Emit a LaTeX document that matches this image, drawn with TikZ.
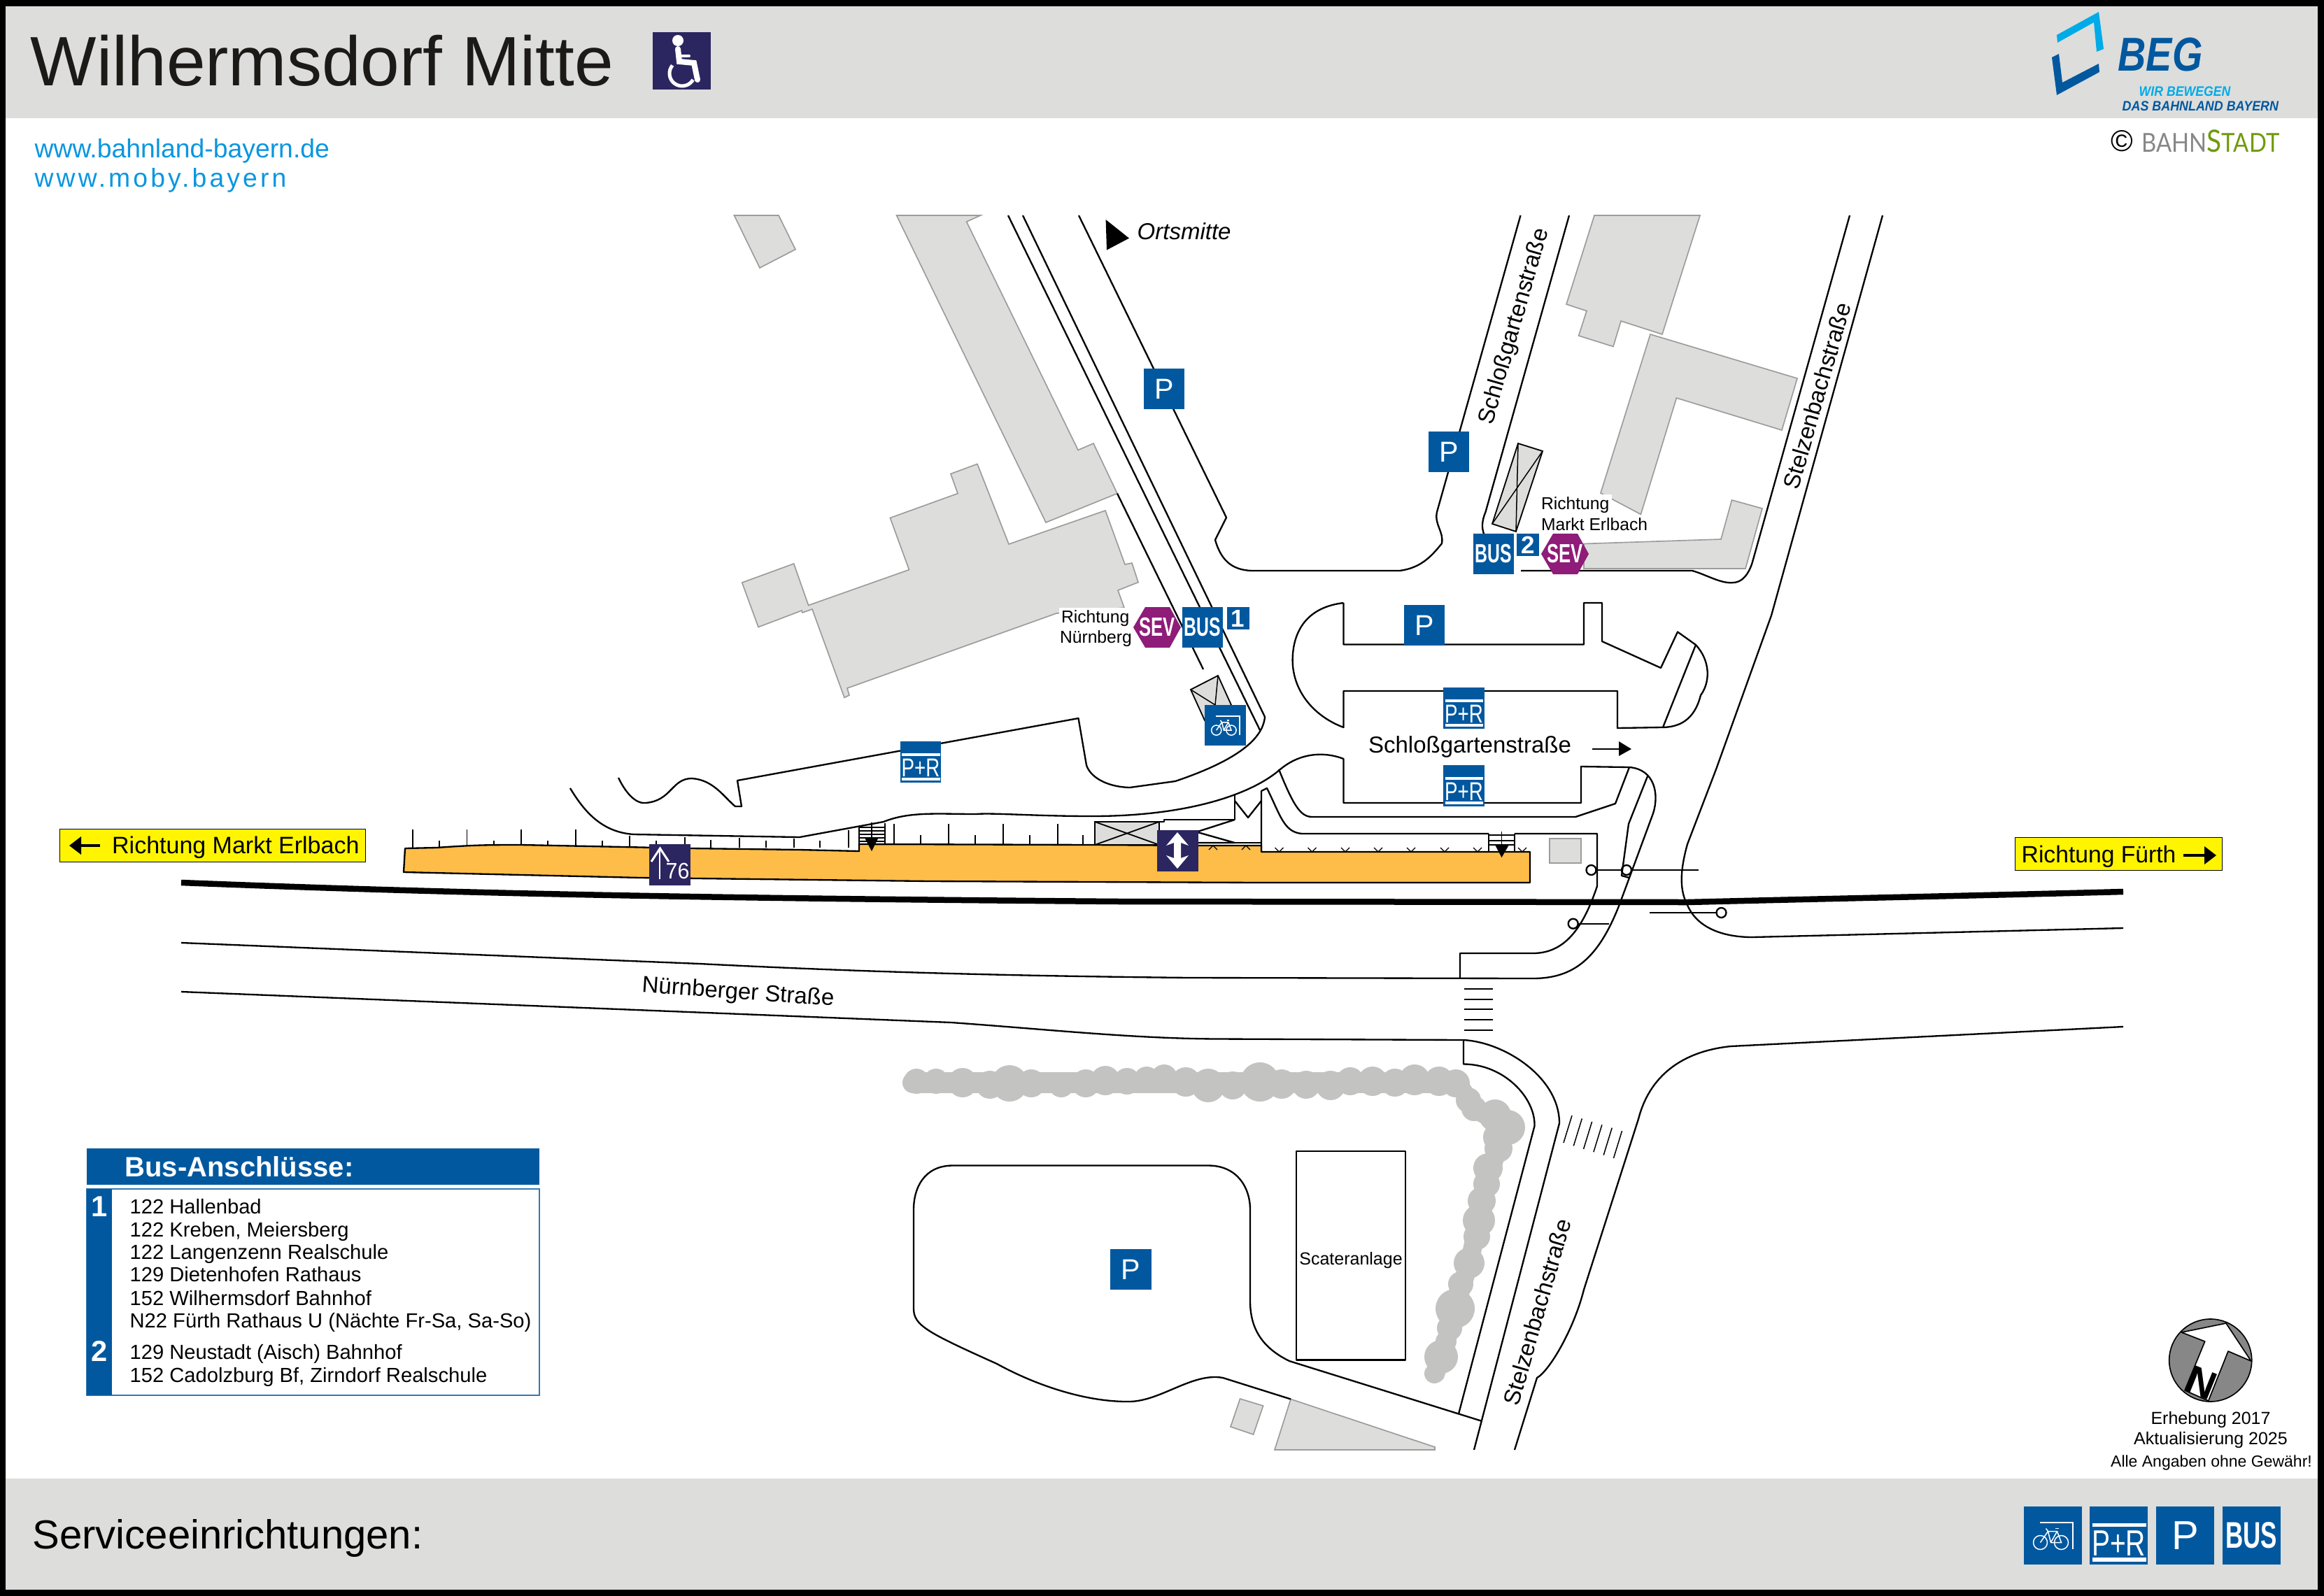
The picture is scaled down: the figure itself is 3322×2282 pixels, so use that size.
\documentclass[tikz,border=0pt]{standalone}
\usepackage{fontspec}
\usepackage{graphicx}
\setmainfont{Liberation Sans}
\newfontfamily\stadtfont{Lato}
\newcommand{\txtsize}[1]{\fontsize{#1}{#1}\selectfont}
\definecolor{bandgray}{HTML}{DDDDDB}
\definecolor{wallgray}{HTML}{9C9C9C}
\definecolor{treegray}{HTML}{C3C3C1}
\definecolor{signblue}{HTML}{01589F}
\definecolor{signnavy}{HTML}{2B2660}
\definecolor{sevpurple}{HTML}{8E1C78}
\definecolor{platorange}{HTML}{FDBD48}
\definecolor{wayyellow}{HTML}{FFF500}
\definecolor{linkblue}{HTML}{0A96E0}
\definecolor{beglight}{HTML}{00ABE8}
\definecolor{stadtgray}{HTML}{878787}
\definecolor{stadtgreen}{HTML}{6F9A0A}
\definecolor{titleblack}{HTML}{1C1A17}
\tikzset{
  road/.style={line width=0.7pt,line join=round},
  house/.style={fill=bandgray,draw=wallgray,line width=0.5pt},
  shelter/.style={fill=bandgray,draw=black,line width=0.55pt},
  bluesign/.style={fill=signblue,text=white,inner sep=0pt,minimum size=24.9pt,font=\txtsize{17.4}},
  numsign/.style={fill=signblue,text=white,inner sep=0pt,minimum size=9.6pt,font=\bfseries\txtsize{10.5}},
  navysign/.style={fill=signnavy,text=white,inner sep=0pt,minimum size=17.7pt},
  waysign/.style={fill=wayyellow,draw=black,line width=0.3pt,inner sep=0pt,anchor=north west},
  maptext/.style={inner sep=0pt,font=\txtsize{9.9}},
  smalltext/.style={inner sep=1pt,fill=white,anchor=base west,font=\txtsize{7.4}},
  foottext/.style={inner sep=0pt,anchor=base,font=\txtsize{7.5}},
}
\begin{document}
\begin{tikzpicture}[x=0.3pt,y=-0.3pt]
  \useasboundingbox (0,0) rectangle (3322,2282);

  % frame and bands
  \fill[black] (0,0) rectangle (3322,2282);
  \fill[white] (8,9) rectangle (3313,2273);
  \fill[bandgray] (8,9) rectangle (3313,169);
  \fill[bandgray] (8,2114) rectangle (3313,2273);

  \node[anchor=base west,inner sep=0pt,text=titleblack,font=\txtsize{30}] (title) at (43,122) {Wilhermsdorf Mitte};
  \node[navysign,minimum size=24.7pt] (access) at (974.5,87) {};
  \fill[white] (969,58) circle [radius=8];
  \draw[white,line width=2.4pt,line cap=round] (969,70) -- (971,88) -- (992,90) -- (997,114);
  \draw[white,line width=1.2pt,line cap=round] (971,80) -- (985,80);
  \draw[white,line width=1.5pt] (975,105) ++(220:18) arc [start angle=220,end angle=30,radius=18];

  \node[anchor=base west,inner sep=0pt,text=linkblue,font=\txtsize{11.2}] (linkone) at (49,225) {www.bahnland-bayern.de};
  \node[anchor=base west,inner sep=0pt,text=linkblue,font=\txtsize{11.2}] (linktwo) at (49,267) {\addfontfeature{LetterSpace=11}www.moby.bayern};

  % logo
  \fill[beglight] (2940,50) -- (3000,17) -- (3007,70) -- (2997,74) -- (2993,32) -- (2941,61) -- cycle;
  \fill[signblue] (2933,82) -- (2943,77) -- (2948,118) -- (3000,91) -- (3001,103) -- (2940,136) -- cycle;
  \node[anchor=base west,inner sep=0pt,text=signblue,font=\bfseries\itshape\txtsize{20.4}] (beg) at (3027,101) {\scalebox{.82}[1]{BEG}};
  \node[anchor=base west,inner sep=0pt,text=beglight,font=\bfseries\itshape\txtsize{5.9}] (begone) at (3057,137) {\scalebox{.9}[1]{WIR BEWEGEN}};
  \node[anchor=base west,inner sep=0pt,text=signblue,font=\bfseries\itshape\txtsize{5.9}] (begtwo) at (3033,158) {\scalebox{.91}[1]{DAS BAHNLAND BAYERN}};
  \node[inner sep=0pt,font=\txtsize{12.9}] (copy) at (3033,202) {\textcopyright};
  \node[anchor=base east,inner sep=0pt] (stadt) at (3259,217) {\stadtfont\scalebox{.88}[1]{\txtsize{11.2}\textcolor{stadtgray}{BAHN}\textcolor{stadtgreen}{\txtsize{13.2}S\txtsize{11.2}TADT}}};

  % buildings
  \draw[house] (1049.5,308) -- (1113,308) -- (1137,356.6) -- (1086,383) -- cycle;
  \draw[house] (1281.6,308) -- (1401.5,308) -- (1381.6,317) -- (1541,643.5) -- (1563,634) -- (1597,705.6) -- (1495,747) -- cycle;
  \draw[house] (1060.7,833) -- (1134.7,806) -- (1155.6,865.5) -- (1299.5,814.6) -- (1272.4,740.5) -- (1369,705.6) -- (1359,677.5) -- (1397,663.4) -- (1442,778) -- (1580,730) -- (1608,807) -- (1618,805) -- (1627,832.6) -- (1598,844) -- (1607,869) -- (1510,877) -- (1211,984) -- (1214,994) -- (1207,997.4) -- (1161,871) -- (1147,876) -- (1146,873) -- (1084,896.6) -- cycle;
  \draw[house] (2279,308) -- (2430,308) -- (2376,478) -- (2317,459) -- (2306,495.5) -- (2256.6,480) -- (2268,444.6) -- (2239,435) -- cycle;
  \draw[house] (2359,478) -- (2569,541) -- (2547,615) -- (2396.4,569) -- (2345.4,735.4) -- (2288,705) -- cycle;
  \draw[house] (2475.5,715) -- (2519,727) -- (2495,813) -- (2264,813) -- (2264,777.5) -- (2460,771) -- cycle;
  \draw[house] (1772.6,2000) -- (1805.6,2010) -- (1791.6,2051) -- (1759,2040) -- cycle;
  \draw[house] (1845,2000.5) -- (2051,2069) -- (2051,2073) -- (1822,2073) -- cycle;

  % hedge
  \draw[treegray,line width=9pt,line cap=round] (1305,1548) -- (2085,1548);
  \draw[treegray,line width=8pt,line cap=round,line join=round] (2085,1550) -- (2107,1585) -- (2155,1612) -- (2141,1642) -- (2125,1693) -- (2114,1745) -- (2100,1806) -- (2080,1871) -- (2067,1918) -- (2052,1964);
  \foreach \x/\y/\r in {1310/1546/18,1338/1546/18,1376/1548/21,1415/1551/20,1443/1549/26,1474/1549/20,1517/1551/18,1552/1549/20,1580/1545/21,1611/1546/19,1639/1543/18,1664/1541/19,1695/1547/21,1727/1552/24,1762/1552/20,1801/1547/28,1832/1550/21,1867/1551/20,1902/1552/21,1930/1546/20,1962/1546/21,1994/1548/20,2022/1544/22,2057/1546/21,2081/1549/20,
    2099/1573/18,2107/1585/18,2137/1595/23,2155/1612/25,2141/1626/21,2142/1642/20,2127/1670/21,2125/1693/19,2118/1717/20,2114/1745/23,2111/1768/19,2100/1806/22,2088/1836/18,2080/1871/28,2072/1899/18,2067/1918/15,2060/1940/24,2050/1964/14}
    \fill[treegray] (\x,\y) circle [radius=\r];

  % track
  \draw[line width=2.55pt] (259,1262) .. controls (640,1277) and (972,1284) .. (1600,1289) -- (2412,1290) .. controls (2650,1284) and (2850,1280) .. (3035,1275);

  % streets north
  \draw[road] (1542,308) -- (1753,740) -- (1737,772) .. controls (1745,800) and (1760,815) .. (1789,816) -- (2001,816) .. controls (2030,812) and (2045,797) .. (2061,777) .. controls (2064,760) and (2050,750) .. (2054,732) -- (2173.5,308);
  \draw[road] (2243,308) -- (2123.5,732) .. controls (2118,745) and (2118,755) .. (2121,763);
  \draw[road] (2174,816) -- (2419,816) .. controls (2440,822) and (2460,835) .. (2478,833) .. controls (2495,832) and (2503,812) .. (2506,800) -- (2644,308);
  \draw[road] (2691,308) -- (2532,880) -- (2453,1100) -- (2412,1207) .. controls (2400,1250) and (2402,1275) .. (2412,1294) .. controls (2425,1325) and (2460,1340) .. (2505,1340) -- (3035,1327);
  \draw[road] (1597,705.6) -- (1720,957);
  \draw[road] (1441,308) -- (1801,1044);
  \draw[road] (1462,308) -- (1808,1025) .. controls (1805,1060) and (1760,1090) .. (1680,1117) -- (1615,1126) .. controls (1580,1125) and (1558,1110) .. (1553,1094) -- (1541.5,1027) -- (1054,1116) -- (1060,1153) -- (1051,1153) .. controls (1035,1140) and (1020,1115) .. (989,1113) .. controls (960,1113) and (960,1145) .. (923,1148) .. controls (905,1150) and (890,1125) .. (884,1112);

  % island
  \draw[road] (1920.5,862) -- (1920.5,921.5) -- (2264,921.5) -- (2264,862) -- (2290,862) -- (2290,917) -- (2374,955) -- (2398,903.5) -- (2424,922) .. controls (2445,945) and (2445,975) .. (2431,994) .. controls (2422,1030) and (2400,1040) .. (2375,1040) -- (2312,1041) -- (2312,988) -- (1920.5,988) -- (1920.5,1040) .. controls (1880,1025) and (1848,990) .. (1847.6,944) .. controls (1848,900) and (1870,868) .. (1920.5,862);
  \draw[road] (2424,922) -- (2377,1040);

  % station side
  \draw[road] (259,1348) -- (1000,1378) .. controls (1200,1388) and (1400,1395) .. (1700,1398) -- (2191,1399) .. controls (2250,1399) and (2285,1370) .. (2315,1293) -- (2363,1163) .. controls (2372,1135) and (2365,1100) .. (2329,1097) -- (2260,1096) -- (2260,1148) -- (1920.5,1148) -- (1920.5,1085) .. controls (1895,1075) and (1860,1075) .. (1830,1100) .. controls (1790,1135) and (1700,1167) .. (1561,1167) .. controls (1480,1167) and (1420,1162) .. (1395,1164) .. controls (1340,1164) and (1300,1160) .. (1263,1175) -- (1143,1197) -- (906,1193) .. controls (860,1190) and (835,1160) .. (815,1127);
  \draw[road] (2087,1399) -- (2087,1363) -- (2191,1363) .. controls (2235,1363) and (2262,1330) .. (2283,1267) -- (2283,1192) -- (2165,1192);
  \draw[road] (2128,1192) -- (1861,1192) .. controls (1835,1190) and (1830,1165) .. (1811,1127) -- (1803,1131) -- (1803,1218);
  \draw[road] (2329,1097) -- (2309,1149) -- (2252,1168) -- (1876,1168) .. controls (1860,1168) and (1850,1155) .. (1828,1100);
  \draw[road] (2355,1110) -- (2328,1178) -- (2318,1252) -- (2329,1255);
  \draw[road] (1765,1137) -- (1765,1172) -- (1664,1172) -- (1664,1175) -- (1565,1175);
  \draw[road] (1765,1145) -- (1784,1169) -- (1803,1145);
  \draw[road] (1765,1172) -- (1712,1189);
  \draw[road] (1712,1190) -- (1765,1205) -- (1712,1205);
  \draw[road] (1765,1205) -- (1803,1205);

  % signals
  \draw[road] (2281.5,1244) -- (2318,1244);
  \draw[road] (2332,1244) -- (2428,1244);
  \draw[road] (2358,1305) -- (2453,1305);
  \draw[road] (2256,1321) -- (2300,1321);
  \foreach \x/\y in {2274.5/1244,2325/1244,2460.5/1305,2248.7/1320.7}
    \draw[road] (\x,\y) circle [radius=7];

  % streets south
  \draw[road] (259,1418) -- (1360,1462) .. controls (1500,1472) and (1620,1485) .. (1741,1485.5) -- (2092,1487) .. controls (2150,1490) and (2229,1540) .. (2229,1606) -- (2107,2073);
  \draw[road] (2092,1487) -- (2092,1521.5) .. controls (2150,1521.5) and (2195,1570) .. (2193.5,1610) -- (2085,2021.5);
  \draw[road] (3035,1468) -- (2474,1496) .. controls (2415,1502) and (2360,1530) .. (2342,1600) -- (2264,1844) .. controls (2250,1900) and (2215,1960) .. (2197,1970) -- (2165,2073);
  \draw[road] (2118.5,2032) -- (1843,1946) .. controls (1800,1925) and (1787,1895) .. (1787,1860) -- (1787,1729) .. controls (1787,1700) and (1770,1666.5) .. (1727,1666.5) -- (1362,1666.5) .. controls (1320,1666.5) and (1306,1700) .. (1306,1729) -- (1306,1871) .. controls (1306,1895) and (1325,1905) .. (1425,1950) .. controls (1470,1975) and (1545,2005) .. (1615,2004) .. controls (1660,2003) and (1705,1962) .. (1748,1970) -- (1845,2000.5);
  \draw[road] (1853,1646) rectangle (2009,1944.5);
  \node[maptext,font=\txtsize{7.5}] (skate) at (1931,1802) {Scateranlage};

  % crossings
  \foreach \y in {1414,1429,1443,1458,1473}
    \draw[road] (2092.5,\y) -- (2134,\y);
  \foreach \i in {0,...,5}
    \draw[line width=0.45pt] (2247+14.3*\i,1595+4.4*\i) -- (2235+14.3*\i,1634+4.4*\i);

  % ticks
  \foreach \x/\y in {590/1186,667.5/1186,745/1186,823/1186,900/1195,979/1197,1057/1198,1135/1199,1213/1187,
    628/1202,706/1202,783/1202,861/1202,938/1202,1016/1201,1095/1202,1172/1202,
    1278/1178,1356/1178,1434/1178,1512/1178,1316/1194,1394/1194,1472/1194,1548/1194}
    \draw[line width=0.35pt] (\x,\y) -- (\x,1212);

  % platform
  \draw[fill=platorange,line width=0.7pt,line join=round] (579,1213) -- (624,1212) .. controls (680,1208) and (700,1208) .. (745,1208) -- (989,1213) -- (1143,1215) -- (1228,1217) -- (1228,1207) -- (1565,1208) -- (1712,1209) -- (1803,1209) -- (1803,1218) -- (2187,1218) -- (2187,1262) -- (1800,1262) -- (1329,1260) -- (915,1255) -- (577,1247) -- cycle;

  % stairs
  \foreach \y in {1183,1188,1193,1198,1203}
    \draw[line width=0.5pt] (1228,\y) -- (1265,\y);
  \draw[line width=0.5pt] (1228,1183) -- (1228,1217);
  \draw[line width=0.5pt] (1265,1177) -- (1265,1207);
  \draw[line width=0.5pt] (1246,1176) -- (1246,1200);
  \fill[black] (1235.5,1197) -- (1256,1197) -- (1246,1217) -- cycle;
  \foreach \y in {1194,1202,1208}
    \draw[line width=0.5pt] (2128,\y) -- (2165,\y);
  \draw[line width=0.5pt] (2128,1192) -- (2128,1218);
  \draw[line width=0.5pt] (2165,1192) -- (2165,1218);
  \draw[line width=0.5pt] (2146.5,1189) -- (2146.5,1210);
  \fill[black] (2137,1208) -- (2157,1208) -- (2146.5,1226) -- cycle;
  \foreach \x in {1828.5,1875.5,1923,1970,2017,2065,2112,2176}
    \draw[line width=0.35pt] (\x-6,1212) -- (\x,1218) -- (\x+6,1212);
  \foreach \x in {1734,1781}
    \draw[line width=0.35pt] (\x-6,1215) -- (\x,1209) -- (\x+6,1215);

  % shelters and boxes
  \draw[shelter] (1565,1175) rectangle (1657,1208);
  \draw[line width=0.55pt] (1565,1175) -- (1657,1208) (1565,1208) -- (1657,1175);
  \draw[shelter] (1702,986) -- (1741,966) -- (1760,1008) -- (1722,1030) -- cycle;
  \draw[line width=0.45pt] (1702,986) -- (1737,1008) -- (1741,966);
  \draw[shelter] (2170,634) -- (2205,645) -- (2167,760) -- (2133,749) -- cycle;
  \draw[line width=0.45pt] (2170,634) -- (2167,760) (2205,645) -- (2133,749);
  \draw[fill=bandgray,draw=wallgray,line width=0.6pt] (2215,1199) rectangle (2260,1234);

  % street names
  \node[maptext] (schlossh) at (2101,1068) {Schloßgartenstraße};
  \draw[road] (2276,1071) -- (2316,1071);
  \fill[black] (2314,1060) -- (2332,1071) -- (2314,1081) -- cycle;
  \node[maptext,rotate=74] (schlossv) at (2165,467) {Schloßgartenstraße};
  \node[maptext,rotate=74] (stelzone) at (2597,566) {Stelzenbachstraße};
  \node[maptext,rotate=74] (stelztwo) at (2197,1876) {Stelzenbachstraße};
  \node[maptext,rotate=-4] (nuern) at (1055,1420) {Nürnberger Straße};
  \node[anchor=base west,inner sep=0pt,font=\itshape\txtsize{9.9}] (ortsmitte) at (1625,342) {Ortsmitte};
  \fill[black] (1580.6,314) -- (1614,340.6) -- (1582,357.5) -- cycle;

  % stop labels
  \node[smalltext] (richnb) at (1513,890) {Richtung};
  \node[smalltext] (nbname) at (1511,919) {Nürnberg};
  \node[smalltext] (richme) at (2199,728.5) {Richtung};
  \node[smalltext] (mename) at (2199,758) {Markt Erlbach};

  % signs
  \foreach \n/\cx/\cy/\s in {pone/1664/556/.71,ptwo/2071/646/.71,pthree/2036/894/.71,pfour/1616.5/1815/.71,pserv/3123.5/2195.5/1}
    \node[bluesign,scale=\s] (\n) at (\cx,\cy) {P};
  \foreach \n/\cx/\cy/\s in {busone/1719/897/.71,bustwo/2135/792/.71,busserv/3218/2195.5/1}
    \node[bluesign,scale=\s,font=\bfseries\txtsize{15.9}] (\n) at (\cx,\cy) {\scalebox{.66}[1]{BUS}};
  \foreach \n/\cx/\cy/\s in {prleft/1316/1089.5/.71,prtop/2092.5/1012.5/.71,prbot/2092.5/1123.5/.71,prserv/3028.5/2195.5/1}
    {
    \node[bluesign,scale=\s] (\n) at (\cx,\cy) {};
    \begin{scope}[shift={(\cx,\cy)},scale=\s]
      \fill[white] (-38,-17.7) rectangle (39,-12.5);
      \fill[white] (-38,31.5) rectangle (39,37.5);
      \node[scale=\s,text=white,inner sep=0pt,font=\txtsize{15.6}] (\n text) at (0,11) {\scalebox{.75}[1]{P+R}};
    \end{scope}
    }
  \foreach \n/\cx/\cy/\s in {bikeone/1751.5/1037/.71,bikeserv/2934.5/2195.5/1}
    {
    \node[bluesign,scale=\s] (\n) at (\cx,\cy) {};
    \begin{scope}[shift={(\cx,\cy)},scale=\s,white,line width=0.45pt]
      \draw (-18.5,-18.5) -- (28.5,-18.5) -- (28.5,19.5);
      \draw (-18,10) circle [radius=10];
      \draw (12,10) circle [radius=10];
      \draw (-18,10) -- (-7,-6) -- (6,-6) -- (12,10) -- (-3,10) -- (-7,-6);
      \draw (-3,10) -- (6,-6);
      \draw (-10,-10) -- (-7,-6);
      \draw (3,-10) -- (8,-10);
    \end{scope}
    }
  \node[numsign] (numone) at (1769.5,884) {1};
  \node[numsign] (numtwo) at (2184,779) {2};
  \foreach \n/\cx/\cy in {sevone/1654/897,sevtwo/2237/792}
    {
    \fill[sevpurple] (\cx-34,\cy) -- (\cx-17,\cy-29) -- (\cx+18,\cy-29) -- (\cx+34,\cy) -- (\cx+18,\cy+29) -- (\cx-17,\cy+29) -- cycle;
    \node[text=white,inner sep=0pt,font=\bfseries\txtsize{11.3}] (\n) at (\cx,\cy) {\scalebox{.68}[1]{SEV}};
    }
  \node[navysign] (ramp) at (957.5,1236.5) {};
  \draw[white,line width=0.7pt] (943,1257) -- (943,1214);
  \draw[white,line width=0.9pt] (931,1232) -- (943.5,1213) -- (956,1232);
  \node[text=white,inner sep=0pt,font=\txtsize{9.6}] (rampnum) at (968.5,1245.5) {\scalebox{.95}[1]{76}};
  \node[navysign] (lift) at (1683,1216.5) {};
  \fill[white] (1683,1190) -- (1699,1209) -- (1688,1205) -- (1688,1227) -- (1699,1223) -- (1683,1242) -- (1667,1223) -- (1678,1227) -- (1678,1205) -- (1667,1209) -- cycle;

  % direction signs
  \node[waysign,minimum width=131.1pt,minimum height=14.1pt] (wayleft) at (85,1185) {};
  \node[anchor=base west,inner sep=0pt,font=\txtsize{10.2}] (waylefttext) at (159.5,1220) {Richtung Markt Erlbach};
  \draw[line width=1pt] (143,1209) -- (112,1209);
  \fill[black] (99,1209) -- (116,1196) -- (116,1222) -- cycle;
  \node[waysign,minimum width=88.8pt,minimum height=14.2pt] (wayright) at (2880,1197) {};
  \node[anchor=base west,inner sep=0pt,font=\txtsize{10.1}] (wayrighttext) at (2889,1233) {Richtung Fürth};
  \draw[line width=1pt] (3121,1223) -- (3155,1223);
  \fill[black] (3168,1223) -- (3151,1210) -- (3151,1236) -- cycle;

  % bus table
  \fill[signblue] (124,1642) rectangle (771,1694);
  \node[anchor=base west,inner sep=0pt,text=white,font=\bfseries\txtsize{12}] (bustitle) at (178,1682) {Bus-Anschlüsse:};
  \draw[draw=signblue!80!white,line width=0.4pt] (124,1700) rectangle (771,1995);
  \fill[signblue] (124,1700) rectangle (160,1995);
  \node[text=white,inner sep=0pt,font=\bfseries\txtsize{12.5}] (tabone) at (142,1725) {1};
  \node[text=white,inner sep=0pt,font=\bfseries\txtsize{12.5}] (tabtwo) at (142,1932) {2};
  \foreach \ly/\ltext in {1735/{122 Hallenbad},1768/{122 Kreben, Meiersberg},1800/{122 Langenzenn Realschule},1832/{129 Dietenhofen Rathaus},1866/{152 Wilhermsdorf Bahnhof},1898/{N22 Fürth Rathaus U (Nächte Fr-Sa, Sa-So)},1943/{129 Neustadt (Aisch) Bahnhof},1976/{152 Cadolzburg Bf, Zirndorf Realschule}}
    \node[anchor=base west,inner sep=0pt,font=\txtsize{8.75}] (line\ly) at (185,\ly) {\ltext};

  % north arrow
  \draw[fill=stadtgray,line width=0.5pt] (3159.7,1945) circle [radius=59];
  \draw[fill=white,line width=0.5pt,line join=round] (3182,1892) -- (3217.7,1946) -- (3185,1932) -- (3156.7,2003) -- (3123,1988) -- (3151.7,1918) -- (3118.3,1905) -- cycle;
  \node[inner sep=0pt,rotate=-22,font=\bfseries\txtsize{17}] (north) at (3146.7,1977) {N};
  \node[foottext] (surveyed) at (3160,2036) {Erhebung 2017};
  \node[foottext] (updated) at (3160,2065) {Aktualisierung 2025};
  \node[foottext,font=\txtsize{6.9}] (noliab) at (3161,2097) {Alle Angaben ohne Gewähr!};

  \node[anchor=base west,inner sep=0pt,font=\txtsize{17.4}] (service) at (46,2214) {Serviceeinrichtungen:};
\end{tikzpicture}
\end{document}
